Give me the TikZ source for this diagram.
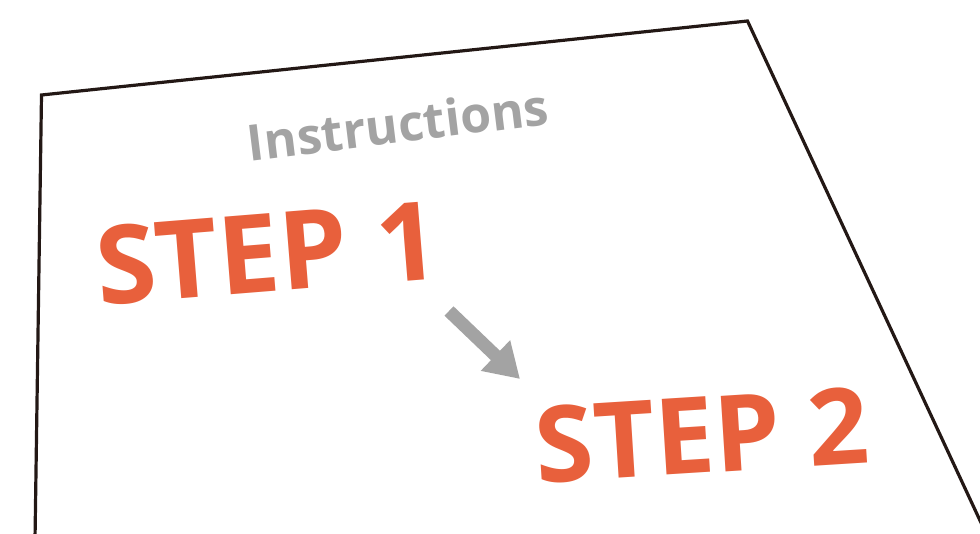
\documentclass[tikz,border=0pt]{standalone}
\usepackage{fontspec}
\setmainfont{Open Sans}
\usetikzlibrary{arrows.meta}
\definecolor{stepor}{HTML}{E8603C}
\definecolor{instgray}{HTML}{A3A3A3}
\definecolor{edge}{HTML}{231815}
\tikzset{
  sheet/.style={draw=edge, line width=3.2pt, line join=miter},
  steptext/.style={text=stepor, inner sep=0pt},
  titletext/.style={text=instgray, font=\fontsize{50}{50}\selectfont\bfseries, inner sep=0pt},
  flowarrow/.style={draw=instgray, line width=13pt, -{Triangle[width=40pt,length=34pt]}}
}
\begin{document}
\begin{tikzpicture}[x=1pt,y=-1pt]
\useasboundingbox (0,0) rectangle (980,534);
\coordinate (bl) at (35,540);
\coordinate (tl) at (41.5,95);
\coordinate (tr) at (747.5,21);
\coordinate (br) at (990,542);
\draw[sheet] (bl) -- (tl) -- (tr) -- (br);
\node[titletext, rotate=7] (inst) at (398,124) {Instructions};
\node[steptext, font=\fontsize{109}{109}\selectfont\bfseries, rotate=4.6] (s1) at (267,253) {STEP 1};
\node[steptext, font=\fontsize{106}{106}\selectfont\bfseries, rotate=3.6] (s2) at (702,435) {STEP 2};
\coordinate (a1) at (449,311);
\coordinate (a2) at (520,379);
\draw[flowarrow] (a1) -- (a2);
\end{tikzpicture}
\end{document}
